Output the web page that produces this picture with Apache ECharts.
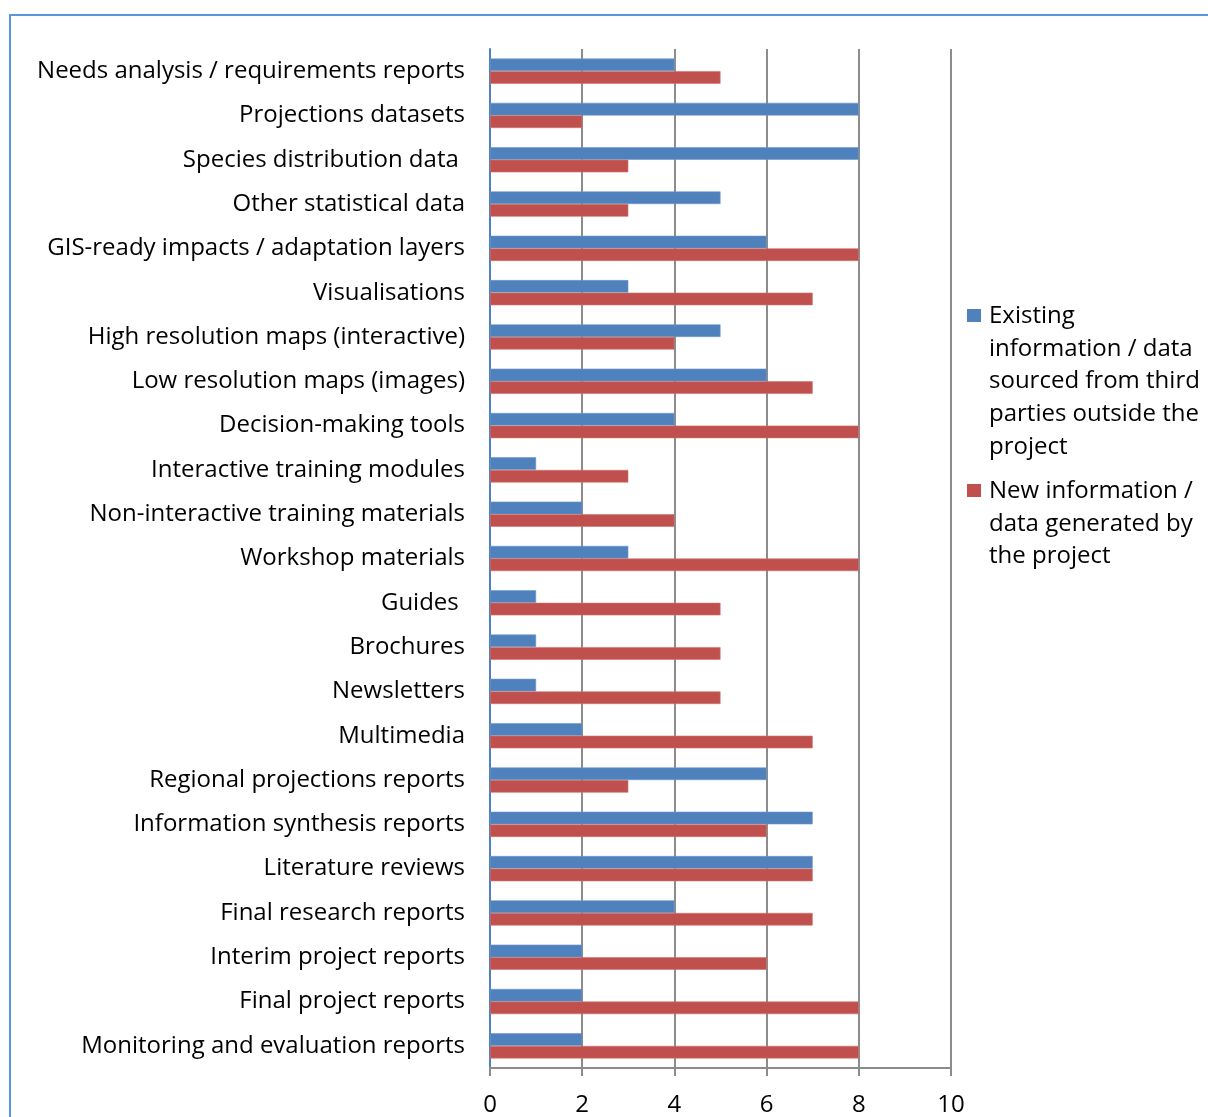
<!DOCTYPE html>
<html>
<head>
<meta charset="utf-8">
<script src="https://cdn.jsdelivr.net/npm/echarts@6/dist/echarts.min.js"></script>
<style>
  html, body { margin: 0; padding: 0; background: #fff; }
  #chart { width: 1208px; height: 1117px; }
</style>
</head>
<body>
<div id="chart"></div>
<script>
// Information / data types, listed top to bottom
const categories = [
  'Needs analysis / requirements reports',
  'Projections datasets',
  'Species distribution data ',
  'Other statistical data',
  'GIS-ready impacts / adaptation layers',
  'Visualisations',
  'High resolution maps (interactive)',
  'Low resolution maps (images)',
  'Decision-making tools',
  'Interactive training modules',
  'Non-interactive training materials',
  'Workshop materials',
  'Guides ',
  'Brochures',
  'Newsletters',
  'Multimedia',
  'Regional projections reports',
  'Information synthesis reports',
  'Literature reviews',
  'Final research reports',
  'Interim project reports',
  'Final project reports',
  'Monitoring and evaluation reports'
];

const existingData = [4, 8, 8, 5, 6, 3, 5, 6, 4, 1, 2, 3, 1, 1, 1, 2, 6, 7, 7, 4, 2, 2, 2];
const newData      = [5, 2, 3, 3, 8, 7, 4, 7, 8, 3, 4, 8, 5, 5, 5, 7, 3, 6, 7, 7, 6, 8, 8];

const seriesNames = [
  'Existing information / data sourced from third parties outside the project',
  'New information / data generated by the project'
];
// Legend text, wrapped as it is displayed
const legendLines = [
  ['Existing', 'information / data', 'sourced from third', 'parties outside the', 'project'],
  ['New information /', 'data generated by', 'the project']
];
const xTicks = [0, 2, 4, 6, 8, 10];

const colors = ['#4f81bd', '#c0504d'];
const FONT = '"Open Sans", "Noto Sans", sans-serif';
const FONT_SIZE = 24;

const chart = echarts.init(document.getElementById('chart'), null, { renderer: 'canvas' });

// Legend block built as graphic items so the marker sits on the first text line
const legendGraphics = [];
const legendTops = [300, 475];
legendLines.forEach((lines, i) => {
  legendGraphics.push({
    type: 'rect',
    shape: { x: 967, y: legendTops[i] + 9, width: 14, height: 13 },
    style: { fill: colors[i] }
  });
  legendGraphics.push({
    type: 'text',
    x: 989,
    y: legendTops[i],
    style: {
      text: lines.join('\n'),
      font: FONT_SIZE + 'px ' + FONT,
      lineHeight: 32.6,
      fill: '#000',
      textVerticalAlign: 'top'
    }
  });
});

chart.setOption({
  animation: false,
  backgroundColor: '#fff',
  grid: { left: 490, top: 49, width: 461, height: 1021, containLabel: false },
  xAxis: {
    type: 'value',
    min: xTicks[0],
    max: xTicks[xTicks.length - 1],
    interval: 2,
    axisLine: { show: true, lineStyle: { color: '#8c8c8c', width: 2 } },
    axisTick: { show: true, length: 8, lineStyle: { color: '#8c8c8c', width: 2 } },
    splitLine: { show: true, lineStyle: { color: '#8c8c8c', width: 2 } },
    axisLabel: { fontFamily: FONT, fontSize: FONT_SIZE, color: '#000', margin: 25 }
  },
  yAxis: {
    type: 'category',
    data: categories,
    inverse: true,
    axisLine: { show: true, lineStyle: { color: '#4f81bd', width: 2 } },
    axisTick: { show: false },
    splitLine: { show: false },
    axisLabel: { fontFamily: FONT, fontSize: FONT_SIZE, color: '#000', margin: 25 }
  },
  graphic: [
    {
      type: 'rect',
      shape: { x: 10, y: 15, width: 1400, height: 1300 },
      style: { fill: 'none', stroke: '#5a96dc', lineWidth: 2 },
      z: 10
    }
  ].concat(legendGraphics),
  series: [
    {
      name: seriesNames[0],
      type: 'bar',
      data: existingData,
      barWidth: 12.6,
      barGap: '0%',
      itemStyle: { color: colors[0], borderColor: '#6d97cb', borderWidth: 0.6 }
    },
    {
      name: seriesNames[1],
      type: 'bar',
      data: newData,
      barWidth: 12.6,
      barGap: '0%',
      itemStyle: { color: colors[1], borderColor: '#cd7371', borderWidth: 0.6 }
    }
  ]
});
</script>
</body>
</html>
